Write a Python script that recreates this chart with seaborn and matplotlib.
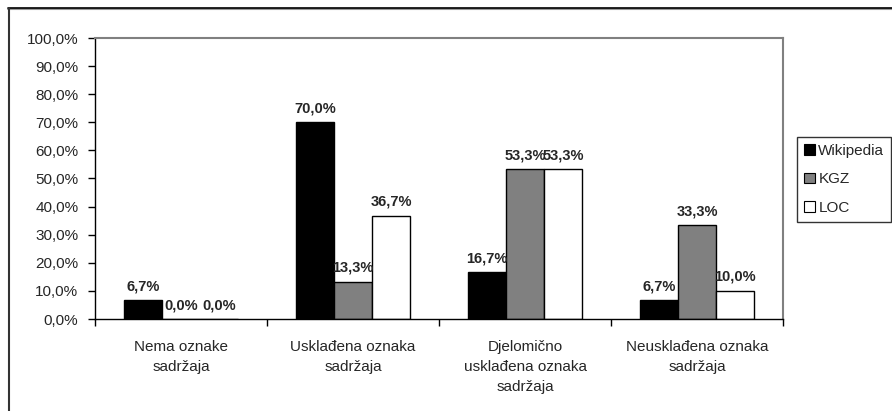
import matplotlib
matplotlib.use("Agg")
import matplotlib.pyplot as plt
import seaborn as sns
import pandas as pd
from matplotlib.lines import Line2D
from matplotlib.patches import Patch

categories = ["Nema oznake\nsadržaja", "Usklađena oznaka\nsadržaja",
              "Djelomično\nusklađena oznaka\nsadržaja", "Neusklađena oznaka\nsadržaja"]
series = ["Wikipedia", "KGZ", "LOC"]
wikipedia = [6.7, 70.0, 16.7, 6.7]
kgz = [0.0, 13.3, 53.3, 33.3]
loc = [0.0, 36.7, 53.3, 10.0]
yticks = [0, 10, 20, 30, 40, 50, 60, 70, 80, 90, 100]
colors = ["#000000", "#808080", "#ffffff"]

rows = []
for name, vals in zip(series, [wikipedia, kgz, loc]):
    for c, v in zip(categories, vals):
        rows.append({"cat": c, "series": name, "value": v})
df = pd.DataFrame(rows)

sns.set_theme(style="white")
plt.rcParams["font.family"] = ["Liberation Sans", "DejaVu Sans"]

fig = plt.figure(figsize=(8.92, 4.11), dpi=100)
ax = fig.add_axes([95/892, 1-319/411, (783-95)/892, (319-38)/411])

sns.barplot(data=df, x="cat", y="value", hue="series", palette=colors,
            width=0.667, dodge=True, edgecolor="black", linewidth=1.0,
            ax=ax, legend=False, saturation=1)

for cont, vals in zip(ax.containers, [wikipedia, kgz, loc]):
    labels = [f"{v:.1f}%".replace(".", ",") for v in vals]
    ax.bar_label(cont, labels=labels, padding=5, fontsize=10.5, fontweight="bold")

ax.set_ylim(0, 100)
ax.set_xlim(-0.5, 3.5)
ax.set_yticks(yticks)
ax.set_yticklabels([f"{t:.1f}%".replace(".", ",") for t in yticks], fontsize=11)
ax.set_xlabel("")
ax.set_ylabel("")
ax.tick_params(axis="x", which="major", length=0, pad=15, labelsize=11)
for lbl in ax.get_xticklabels():
    lbl.set_linespacing(1.55)
ax.set_xticks([-0.5, 0.5, 1.5, 2.5, 3.5], minor=True)
ax.tick_params(axis="x", which="minor", length=5, width=1, color="black", direction="out", bottom=True)
ax.tick_params(axis="y", length=5, width=1, color="black", direction="out", left=True, pad=7)

for s in ["left", "bottom"]:
    ax.spines[s].set_color("black")
    ax.spines[s].set_linewidth(1.0)
for s in ["top", "right"]:
    ax.spines[s].set_color("#808080")
    ax.spines[s].set_linewidth(1.5)

handles = [Patch(facecolor=c, edgecolor="black", linewidth=0.8) for c in colors]
leg = fig.legend(handles, series, loc="upper left",
                 bbox_to_anchor=(797/892, 1-137/411), fontsize=11,
                 handlelength=0.7, handleheight=0.7, handletextpad=0.25,
                 labelspacing=0.95, borderpad=0.45, borderaxespad=0,
                 frameon=True, fancybox=False, shadow=False)
leg.get_frame().set_edgecolor("black")
leg.get_frame().set_linewidth(1.0)

fig.add_artist(Line2D([8/892, 1.0], [1-9.5/411, 1-9.5/411], color="#999999", lw=1.5, transform=fig.transFigure))
fig.add_artist(Line2D([8/892, 1.0], [1-8.5/411, 1-8.5/411], color="black", lw=1.2, transform=fig.transFigure))
fig.add_artist(Line2D([8.5/892, 8.5/892], [0, 1-8.5/411], color="#333333", lw=1.5, transform=fig.transFigure))

fig.savefig("out.png", dpi=100)
